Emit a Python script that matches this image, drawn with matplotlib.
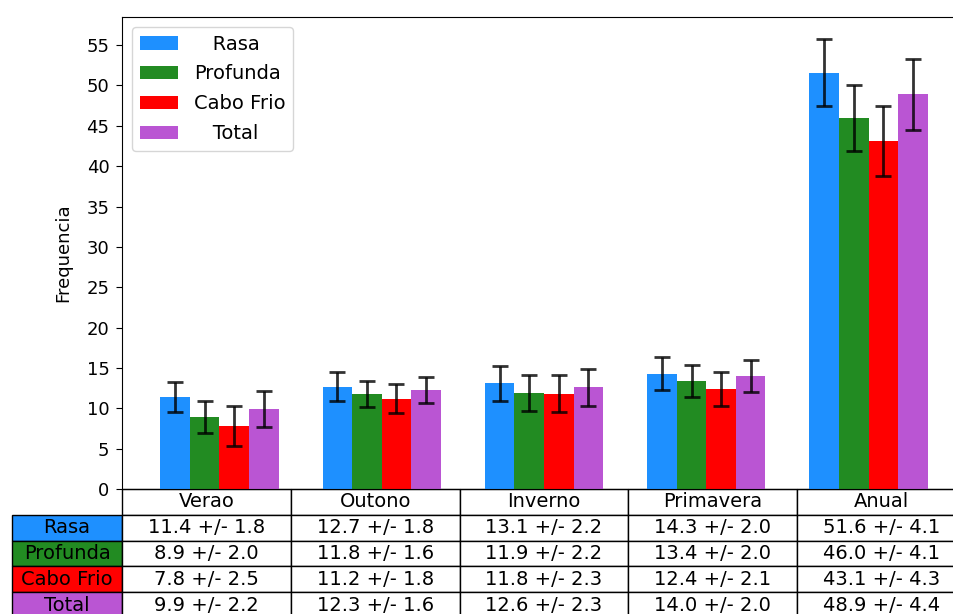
import numpy as np
import matplotlib
matplotlib.use('Agg')
import matplotlib.pyplot as plt

estacoes = ['Verao', 'Outono', 'Inverno', 'Primavera', 'Anual']
grupos = ['Rasa', 'Profunda', 'Cabo Frio', 'Total']

rasa = [11.4, 12.7, 13.1, 14.3, 51.6]
rasa_dp = [1.8, 1.8, 2.2, 2.0, 4.1]
profunda = [8.9, 11.8, 11.9, 13.4, 46.0]
profunda_dp = [2.0, 1.6, 2.2, 2.0, 4.1]
cabofrio = [7.8, 11.2, 11.8, 12.4, 43.1]
cabofrio_dp = [2.5, 1.8, 2.3, 2.1, 4.3]
total = [9.9, 12.3, 12.6, 14.0, 48.9]
total_dp = [2.2, 1.6, 2.3, 2.0, 4.4]

medias = [rasa, profunda, cabofrio, total]
desvios = [rasa_dp, profunda_dp, cabofrio_dp, total_dp]
cores = ['dodgerblue', 'forestgreen', 'red', 'mediumorchid']
# espaços para centralizar os textos da legenda
nomes_legenda = ['   Rasa', 'Profunda', 'Cabo Frio', '   Total']

fig = plt.figure(figsize=(9.54, 6.14), dpi=100)
ax = fig.add_axes([122/954, 125/614, 844/954, 472/614])

ind = np.arange(len(estacoes))
largura = 0.182

for i in range(len(grupos)):
    ax.bar(ind + i*largura, medias[i], largura, color=cores[i],
           yerr=desvios[i], label=nomes_legenda[i],
           error_kw=dict(ecolor='black', capsize=6, elinewidth=2,
                         capthick=2, alpha=0.8))

ax.set_yticks(np.arange(0, 60, 5))
ax.tick_params(axis='y', labelsize=13, length=4.5, pad=4.5)
ax.set_xticks([])
ax.set_ylabel('Frequencia', fontsize=13, labelpad=10.5)
ax.legend(loc='upper left', fontsize=14, labelspacing=0.56)

texto = [['%.1f +/- %.1f' % (m, d) for m, d in zip(medias[i], desvios[i])]
         for i in range(len(grupos))]

altura = 129/472
tabela = ax.table(cellText=texto, rowLabels=grupos, rowColours=cores,
                  colLabels=estacoes, cellLoc='center', rowLoc='center',
                  loc='bottom', bbox=[0, -altura, 1, altura])
tabela.auto_set_font_size(False)
tabela.set_fontsize(14)

fig.savefig('out.png', dpi=100)
